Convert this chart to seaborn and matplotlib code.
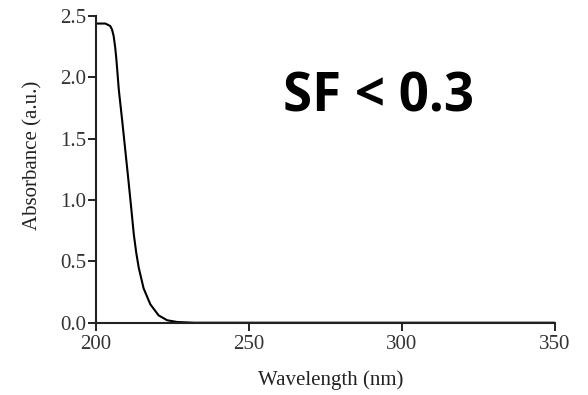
import matplotlib
matplotlib.use("Agg")
import matplotlib.pyplot as plt
import seaborn as sns
import pandas as pd

wavelength = [200.0, 203.1, 204.7, 205.3, 205.8, 206.3, 206.7, 207.5, 208.6, 209.6,
              210.4, 211.5, 212.4, 213.2, 214.0, 215.6, 217.8, 220.5, 223.3, 226.5,
              232.0, 260.0, 300.0, 350.0]
absorbance = [2.44, 2.44, 2.42, 2.39, 2.34, 2.25, 2.15, 1.90, 1.65, 1.41,
              1.22, 0.95, 0.72, 0.57, 0.45, 0.28, 0.15, 0.06, 0.02, 0.006,
              0.0, 0.0, 0.0, 0.0]
x_ticks = [200, 250, 300, 350]
y_ticks = [0.0, 0.5, 1.0, 1.5, 2.0, 2.5]

df = pd.DataFrame({"Wavelength": wavelength, "Absorbance": absorbance})

sns.set_theme(style="ticks")
plt.rcParams['font.family'] = ['Liberation Serif', 'DejaVu Serif']

fig = plt.figure(figsize=(5.88, 3.95), dpi=100)
ax = fig.add_axes([0.163, 0.183, 0.781, 0.776])
sns.lineplot(data=df, x="Wavelength", y="Absorbance", ax=ax, color="black", linewidth=1.5)

ax.set_xlim(200, 350)
ax.set_ylim(0, 2.5)
ax.set_xticks(x_ticks)
ax.set_xticklabels([str(t) for t in x_ticks])
ax.set_yticks(y_ticks)
ax.set_yticklabels([f"{t:.1f}" for t in y_ticks])
ax.tick_params(axis='both', direction='out', length=6, width=1.4, colors="#222222",
               labelsize=15, labelcolor="#333333")
ax.tick_params(axis='y', pad=1)
ax.tick_params(axis='x', pad=3)
for s in ["left", "bottom"]:
    ax.spines[s].set_linewidth(1.5)
    ax.spines[s].set_color("#222222")
sns.despine(ax=ax)
ax.set_xlabel("Wavelength (nm)", fontsize=15, color="#222222", va="center")
ax.set_ylabel("Absorbance (a.u.)", fontsize=15, color="#222222", va="center")
ax.xaxis.set_label_coords(0.512, -0.188)
ax.yaxis.set_label_coords(-0.137, 0.546)

fig.text(0.643, 0.754, "SF < 0.3", fontsize=38, fontweight="bold",
         family=["Open Sans", "DejaVu Sans"], ha="center", va="center", color="black")

fig.savefig("out.png", dpi=100)
